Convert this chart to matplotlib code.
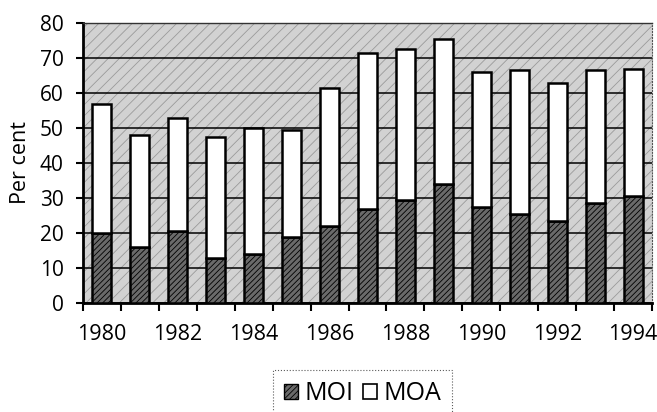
import matplotlib
matplotlib.use("Agg")
import matplotlib.pyplot as plt
from matplotlib.patches import Rectangle, Patch
import numpy as np

years = list(range(1980, 1995))
moi = [20, 16, 20.5, 13, 14, 19, 22, 27, 29.5, 34, 27.5, 25.5, 23.5, 28.5, 30.5]
moa = [37, 32, 32.5, 34.5, 36, 30.5, 39.5, 44.5, 43, 41.5, 38.5, 41, 39.5, 38, 36.5]
year_labels = [str(y) for y in range(1980, 1995, 2)]
y_ticks = list(range(0, 81, 10))

plt.rcParams['font.family'] = ['Open Sans', 'DejaVu Sans']
plt.rcParams['hatch.linewidth'] = 0.6

fig = plt.figure(figsize=(6.57, 4.12), dpi=100)
ax = fig.add_axes([83/657, 1-303/412, (652-83)/657, (303-23)/412])

ax.set_facecolor('#d2d2d2')
bg = Rectangle((0, 0), 1, 1, transform=ax.transAxes, facecolor='none',
               edgecolor='#9a9a9a', hatch='///', linewidth=0, zorder=0.5)
ax.add_patch(bg)

ax.set_xlim(1979.5, 1994.5)
ax.set_ylim(0, 80)
ax.set_yticks(y_ticks)
ax.yaxis.grid(True, color='black', linewidth=1.1, zorder=1)
ax.set_axisbelow(True)

ax.bar(years, moi, width=0.5, facecolor='#6a6a6a', edgecolor='black',
       linewidth=1.8, hatch='//////', zorder=3, label='MOI')
ax.bar(years, moa, width=0.5, bottom=moi, facecolor='white', edgecolor='black',
       linewidth=1.8, zorder=3, label='MOA')

ax.set_xticks([int(l) for l in year_labels])
ax.set_xticklabels(year_labels)
ax.set_xticks(np.arange(1979.5, 1995, 1), minor=True)
ax.tick_params(axis='x', which='major', length=0, pad=15, labelsize=15.5)
ax.tick_params(axis='x', which='minor', length=6, width=1.5, direction='out')
ax.tick_params(axis='y', length=5, width=1.5, direction='out', pad=9, labelsize=15)

for s in ['left', 'bottom']:
    ax.spines[s].set_linewidth(2)
    ax.spines[s].set_color('black')
ax.spines['top'].set_linewidth(1.0)
ax.spines['top'].set_color('#333333')
ax.spines['right'].set_linewidth(0.8)
ax.spines['right'].set_color('#555555')
ax.spines['right'].set_linestyle(':')

ax.set_ylabel('Per cent', fontsize=15.5, labelpad=6)

handles = [Patch(facecolor='#6a6a6a', edgecolor='black', hatch='//////', linewidth=1),
           Patch(facecolor='white', edgecolor='black', linewidth=1.2)]
leg = fig.legend(handles, ['MOI', 'MOA'], loc='upper left',
                 bbox_to_anchor=(273/657, 1-370/412), ncol=2, fontsize=18,
                 frameon=True, fancybox=False, handlelength=0.55, handleheight=0.55,
                 handletextpad=0.25, columnspacing=0.4, borderpad=0.45,
                 borderaxespad=0)
leg.get_frame().set_edgecolor('#333333')
leg.get_frame().set_linewidth(0.8)
leg.get_frame().set_linestyle(':')

fig.savefig('out.png', dpi=100)
